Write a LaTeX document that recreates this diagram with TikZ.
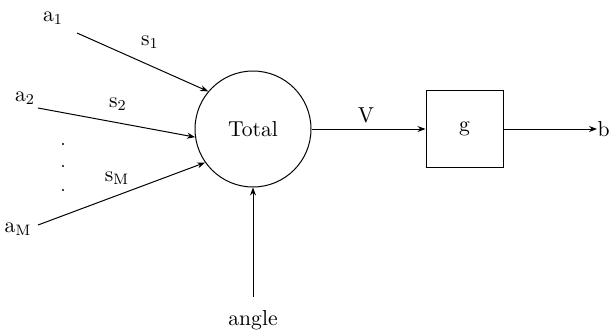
\documentclass[tikz,border=0pt]{standalone}
\usetikzlibrary{arrows.meta}
\begin{document}
\begin{tikzpicture}[x=0.5pt,y=-0.5pt,>={Stealth[length=4pt,width=3pt]},line width=0.5pt,
  every node/.style={font=\fontsize{10.8}{13}\selectfont}]
  \useasboundingbox (0,0) rectangle (611,332);
  \node[draw, circle, minimum size=58pt, inner sep=0pt] (tot) at (253,129) {Total};
  \node[draw, minimum size=38.5pt, inner sep=0pt] (g) at (464.5,129) {g};
  \node (a1) at (53,18) {a\textsubscript{1}};
  \node (a2) at (25,98) {a\textsubscript{2}};
  \node (aM) at (18,229) {a\textsubscript{M}};
  \node (s1) at (150,42) {s\textsubscript{1}};
  \node (s2) at (118,104) {s\textsubscript{2}};
  \node (sM) at (117,178) {s\textsubscript{M}};
  \node (V) at (366,115) {V};
  \node[anchor=west, inner sep=0pt] (b) at (597,129) {b};
  \node (ang) at (253,320) {angle};
  \foreach \y in {144,166,190} \fill (63,\y) circle (0.6pt);
  \coordinate (p1) at (77,33);
  \coordinate (p2) at (38,108);
  \coordinate (pM) at (38,225);
  \coordinate (q) at (253,297);
  \draw[->] (p1) -- (tot.140);
  \draw[->] (p2) -- (tot.188);
  \draw[->] (pM) -- (tot.215);
  \draw[->] (q) -- (tot.south);
  \draw[->] (tot.east) -- (g.west);
  \draw[->] (g.east) -- (g.east -| b.west);
\end{tikzpicture}
\end{document}
